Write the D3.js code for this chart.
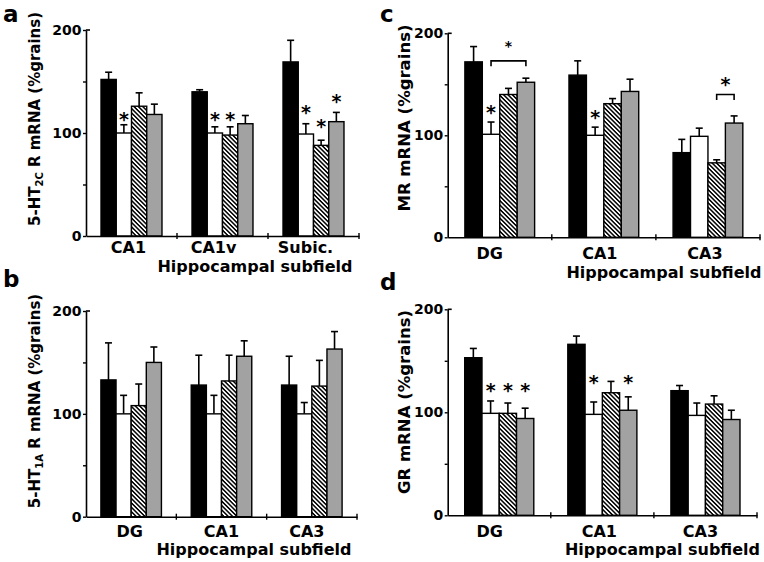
<!DOCTYPE html>
<html><head><meta charset="utf-8">
<script src="https://cdn.jsdelivr.net/npm/d3@7"></script>
<style>
body{margin:0;background:#fff}
svg{display:block}
text{font-family:"DejaVu Sans",sans-serif;font-weight:bold;fill:#000}
</style></head><body>
<svg id="chart" width="764" height="562"></svg>
<script>
// ---------- data ----------
const categoriesA = ["CA1", "CA1v", "Subic."];
const categoriesBCD = ["DG", "CA1", "CA3"];
const seriesKeys = ["s1", "s2", "s3", "s4"]; // black, white, hatched, gray
const yTickValues = [0, 50, 100, 150, 200];
const yTickLabels = ["0", "", "100", "", "200"];
const xTitle = "Hippocampal subfield";

// panel a: 5-HT2C R mRNA
const meansA = [[152, 100, 126, 118], [140, 100, 98, 109], [169, 99, 88, 111]];
const semsA  = [[7, 8, 13, 10], [2, 6, 8, 8], [21, 10, 5, 9]];
const starsA = [[0, 1, 117.5], [1, 1, 117.5], [1, 2, 117.5], [2, 1, 124], [2, 2, 111], [2, 3, 135]];

// panel b: 5-HT1A R mRNA
const meansB = [[133, 100, 108, 150], [128, 100, 132, 156], [128, 100, 127, 163]];
const semsB  = [[36, 18, 21, 15], [29, 18, 25, 15], [28, 11, 25, 17]];
const starsB = [];

// panel c: MR mRNA
const meansC = [[172, 101, 140, 152], [159, 100, 131, 143], [83, 99, 73, 112]];
const semsC  = [[15, 12, 6, 4], [14, 8, 5, 12], [13, 8, 3, 7]];
const starsC = [[0, 1, 126.5], [1, 1, 121.5]];
// bracket: [group, fromSeries, toSeries, bracketLevel, starLevel, starSize]
const bracketsC = [[0, 1, 3, 173, 191, 15], [2, 2, 3, 140, 155, 20]];

// panel d: GR mRNA
const meansD = [[153, 99, 99, 94], [166, 98, 119, 102], [121, 97, 108, 93]];
const semsD  = [[9, 12, 10, 10], [8, 12, 11, 13], [5, 12, 8, 9]];
const starsD = [[0, 1, 125.5], [0, 2, 125.5], [0, 3, 125.5], [1, 1, 133], [1, 3, 133]];

// ---------- layout ----------
const panels = [
  {letter: "a", cats: categoriesA, means: meansA, sems: semsA, stars: starsA, brackets: [],
   ylab: ["5-HT", "2C", " R mRNA (%grains)"],
   x0: 86, x1: 359, yZero: 236, yTop: 30, labelY: 253, titleX: 255, titleY: 271.5,
   ylabX: 40, ylabY: 119, letterX: 3, letterY: 22, labelShift: [-3, -9, -8], ylabSize: 15},
  {letter: "b", cats: categoriesBCD, means: meansB, sems: semsB, stars: starsB, brackets: [],
   ylab: ["5-HT", "1A", " R mRNA (%grains)"],
   x0: 86, x1: 357, yZero: 516.7, yTop: 311, labelY: 536.5, titleX: 254, titleY: 555,
   ylabX: 40, ylabY: 401, letterX: 3, letterY: 287, labelShift: [-1.5, 0, -5], ylabSize: 15},
  {letter: "c", cats: categoriesBCD, means: meansC, sems: semsC, stars: starsC, brackets: bracketsC,
   ylab: ["MR mRNA (%grains)"],
   x0: 447.7, x1: 760, yZero: 237.3, yTop: 33.3, labelY: 259, titleX: 664, titleY: 277.5,
   ylabX: 409.5, ylabY: 118, letterX: 380, letterY: 22, labelShift: [-10, -4, -3], ylabSize: 16.5},
  {letter: "d", cats: categoriesBCD, means: meansD, sems: semsD, stars: starsD, brackets: [],
   ylab: ["GR mRNA (%grains)"],
   x0: 447.7, x1: 757, yZero: 515.3, yTop: 309.3, labelY: 536.5, titleX: 662.5, titleY: 555,
   ylabX: 409.5, ylabY: 402, letterX: 380, letterY: 290, labelShift: [-9.5, -3, -5], ylabSize: 16.5}
];

const svg = d3.select("#chart");
const defs = svg.append("defs");
const hatch = defs.append("pattern").attr("id", "hatch").attr("patternUnits", "userSpaceOnUse")
  .attr("width", 3.1).attr("height", 3.1).attr("patternTransform", "rotate(-45)");
hatch.append("rect").attr("width", 3.1).attr("height", 3.1).attr("fill", "#fff");
hatch.append("line").attr("x1", 0.8).attr("y1", 0).attr("x2", 0.8).attr("y2", 3.1)
  .attr("stroke", "#000").attr("stroke-width", 1.5);

const fills = ["#000", "#fff", "url(#hatch)", "#a2a2a2"];

panels.forEach(p => {
  const g = svg.append("g");
  const y = d3.scaleLinear().domain([0, 200]).range([p.yZero, p.yTop]);
  const x = d3.scaleBand().domain(p.cats).range([p.x0, p.x1]).paddingInner(0.33).paddingOuter(0.165);
  const xs = d3.scaleBand().domain(seriesKeys).range([0, x.bandwidth()]).padding(0);

  // bars
  p.cats.forEach((c, gi) => {
    const gg = g.append("g");
    seriesKeys.forEach((s, si) => {
      const m = p.means[gi][si], e = p.sems[gi][si];
      const bx = x(c) + xs(s), bw = xs.bandwidth();
      const cx = bx + bw / 2;
      gg.append("line").attr("x1", cx).attr("x2", cx).attr("y1", y(m)).attr("y2", y(m + e))
        .attr("stroke", "#000").attr("stroke-width", 1.6);
      gg.append("line").attr("x1", cx - 3.5).attr("x2", cx + 3.5).attr("y1", y(m + e)).attr("y2", y(m + e))
        .attr("stroke", "#000").attr("stroke-width", 1.6);
      gg.append("rect").attr("x", bx).attr("y", y(m)).attr("width", bw).attr("height", y(0) - y(m))
        .attr("fill", fills[si]).attr("stroke", "#000").attr("stroke-width", 1.4);
    });
  });

  // stars
  p.stars.forEach(([gi, si, lvl]) => {
    const cx = x(p.cats[gi]) + xs(seriesKeys[si]) + xs.bandwidth() / 2;
    g.append("text").attr("x", cx).attr("y", y(lvl) + 11).attr("text-anchor", "middle")
      .style("font-size", "19px").text("*");
  });
  // brackets
  p.brackets.forEach(([gi, s1, s2, lvl, slvl, fs]) => {
    const xa = x(p.cats[gi]) + xs(seriesKeys[s1]) + xs.bandwidth() / 2;
    const xb = x(p.cats[gi]) + xs(seriesKeys[s2]) + xs.bandwidth() / 2;
    const yb = y(lvl);
    g.append("path").attr("d", `M${xa},${yb + 5.5}V${yb}H${xb}V${yb + 5.5}`)
      .attr("fill", "none").attr("stroke", "#000").attr("stroke-width", 1.6);
    g.append("text").attr("x", (xa + xb) / 2).attr("y", y(slvl) + fs * 0.57).attr("text-anchor", "middle")
      .style("font-size", (fs - 1) + "px").text("*");
  });

  // y axis
  const yAxis = d3.axisLeft(y).tickValues(yTickValues)
    .tickFormat((d, i) => yTickLabels[i]).tickSizeInner(3).tickSizeOuter(0).tickPadding(1.5);
  const ya = g.append("g").attr("transform", `translate(${p.x0},0)`).call(yAxis);
  ya.select(".domain").attr("stroke-width", 1.6);
  ya.selectAll(".tick line").attr("stroke-width", 1.4);
  ya.selectAll(".tick text").style("font-family", '"DejaVu Sans",sans-serif')
    .style("font-weight", "bold").style("font-size", "14px");
  g.append("line").attr("x1", p.x0).attr("x2", p.x0 + 4).attr("y1", y(200)).attr("y2", y(200))
    .attr("stroke", "#000").attr("stroke-width", 1.6);

  // x axis
  const xAxis = d3.axisBottom(x).tickSize(0).tickFormat("");
  const xa = g.append("g").attr("transform", `translate(0,${p.yZero})`).call(xAxis);
  xa.select(".domain").attr("stroke-width", 1.6);
  p.cats.forEach((c, gi) => {
    const bx = p.x0 + x.step() * (gi + 1);
    g.append("line").attr("x1", bx).attr("x2", bx).attr("y1", p.yZero - 3).attr("y2", p.yZero + 3)
      .attr("stroke", "#000").attr("stroke-width", 1.4);
    g.append("text").attr("x", x(c) + x.bandwidth() / 2 + p.labelShift[gi]).attr("y", p.labelY)
      .attr("text-anchor", "middle").style("font-size", "16px").text(c);
  });
  g.append("text").attr("x", p.titleX).attr("y", p.titleY).attr("text-anchor", "middle")
    .style("font-size", "16px").text(xTitle);

  // y label
  const yl = g.append("text").attr("transform", `translate(${p.ylabX},${p.ylabY}) rotate(-90)`)
    .attr("text-anchor", "middle").style("font-size", p.ylabSize + "px");
  if (p.ylab.length === 3) {
    yl.append("tspan").text(p.ylab[0]);
    yl.append("tspan").attr("dy", 3).style("font-size", "10px").text(p.ylab[1]);
    yl.append("tspan").attr("dy", -3).text(p.ylab[2]);
  } else {
    yl.text(p.ylab[0]);
  }

  // panel letter
  g.append("text").attr("x", p.letterX).attr("y", p.letterY).style("font-size", "23px").text(p.letter);
});
</script>
</body></html>
